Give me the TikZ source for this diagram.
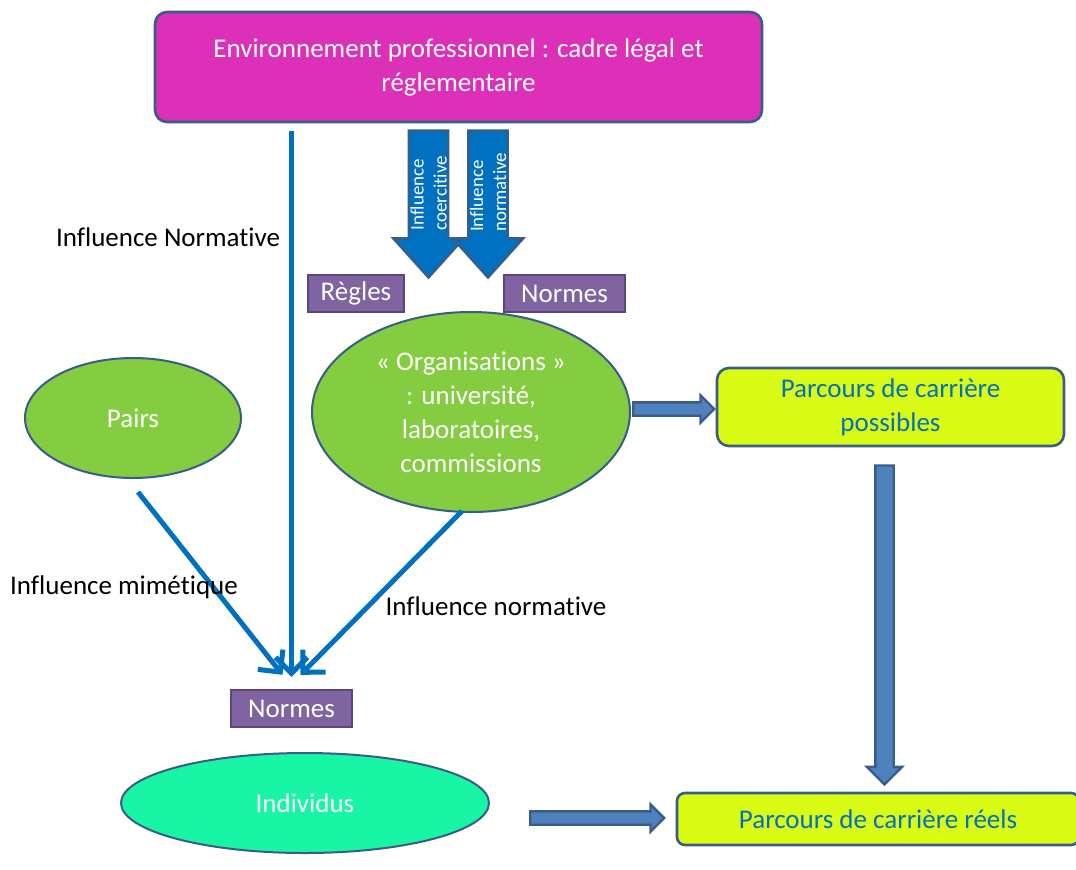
\documentclass[tikz,border=0pt]{standalone}
\usepackage{fontspec}
\setmainfont{Carlito}[Ligatures=NoCommon]
\usetikzlibrary{shapes.geometric,shapes.arrows,arrows.meta,calc}

\definecolor{envfill}{RGB}{220,48,185}
\definecolor{edgeblue}{RGB}{56,93,138}
\definecolor{boxpurple}{RGB}{128,100,162}
\definecolor{boxpurpleedge}{RGB}{92,70,128}
\definecolor{orggreen}{RGB}{132,204,64}
\definecolor{indfill}{RGB}{24,245,164}
\definecolor{pathyellow}{RGB}{218,252,20}
\definecolor{inflblue}{RGB}{0,112,192}
\definecolor{arrowfill}{RGB}{79,129,189}

\begin{document}
\begin{tikzpicture}[x=0.5pt,y=-0.5pt,
			txt/.style={font=\fontsize{13.5}{17}\selectfont, align=center},
			cadre/.style={draw=edgeblue, line width=1.3pt, rounded corners=6pt, inner sep=0pt, txt},
			etiquette/.style={draw=boxpurpleedge, fill=boxpurple, line width=1.2pt, text=white, minimum height=18.5pt, inner sep=0pt, txt},
			acteur/.style={ellipse, draw=edgeblue, line width=1pt, text=white, inner sep=0pt, txt},
			influence/.style={draw=inflblue, line width=2.5pt, -{Straight Barb[length=8pt,width=16pt]}},
			legende/.style={font=\fontsize{13.5}{15}\selectfont},
			fleche/.style={single arrow, draw=edgeblue, fill=arrowfill, line width=1.2pt, inner sep=0pt, anchor=tail},
			petite/.style={inner ysep=2.75pt, single arrow head extend=3.5pt, minimum width=12.5pt},
			contrainte/.style={fleche, fill=inflblue, rotate=-90, inner ysep=9.25pt, minimum width=34pt, single arrow head extend=7.75pt, minimum height=73.5pt, single arrow tip angle=84},
			sens/.style={rotate=90, text=white, font=\fontsize{9.5}{11.5}\selectfont, align=left, inner sep=0pt}
			]
			\useasboundingbox (0,0) rectangle (1076,869);

			\node[cadre, fill=envfill, text=white, minimum width=303.5pt, minimum height=55pt] (env) at (458.5,67) {Environnement professionnel : cadre légal et\\réglementaire};

			\node[contrainte] (coer) at ($(env.south)+(-30,6)$) {};
			\node[contrainte] (norm) at ($(env.south)+(29.5,6)$) {};
			\node[sens] (tcoer) at ($(coer.tail)+(0,64)$) {Influence\\coercitive};
			\node[sens] (tnorm) at ($(norm.tail)+(0,63)$) {Influence\\normative};

			\node[etiquette, minimum width=48pt] (regles) at (356,293.5) {Règles};
			\node[etiquette, minimum width=60.5pt] (normes) at (564.5,293.5) {Normes};

			\node[acteur, fill=orggreen, minimum width=159pt, minimum height=100pt] (org) at (471,412) {« Organisations »\\: université,\\laboratoires,\\commissions};
			\node[acteur, fill=orggreen, minimum width=108pt, minimum height=60pt] (pairs) at (133,418) {Pairs};
			\node[cadre, fill=pathyellow, text=inflblue, minimum width=173.5pt, minimum height=39pt] (poss) at (890.5,407) {Parcours de carrière\\possibles};
			\node[cadre, fill=pathyellow, text=inflblue, rounded corners=4pt, minimum width=201pt, minimum height=26pt] (reels) at (878,819) {Parcours de carrière réels};
			\node[acteur, fill=indfill, minimum width=184pt, minimum height=50pt] (ind) at (305,803) {Individus};
			\node[etiquette, minimum width=60.5pt] (normesind) at (291.5,708.5) {Normes};

			\draw[influence] ($(env.south -| normesind.north)+(0,8)$) -- ($(normesind.north)+(0,-12)$);
			\draw[influence] ($(pairs.south)+(5,13)$) -- ($(normesind.north)+(-9,-14)$);
			\draw[influence] ($(org.south)+(-9,-2)$) -- ($(normesind.north)+(9,-14)$);

			\node[legende] (lnormative) at (168,237) {Influence Normative};
			\node[legende] (lmimetique) at (124,587) {Influence mimétique};
			\node[legende] (lnormorg) at (496,606) {Influence normative};

			\node[fleche, petite, minimum height=40.5pt] (versposs) at ($(org.east)+(1,-3)$) {};
			\node[fleche, rotate=-90, inner ysep=4pt, single arrow head extend=4.25pt, minimum width=16.5pt, minimum height=159.5pt] (versreels) at ($(poss.south)+(-6,17)$) {};
			\node[fleche, petite, minimum height=67pt] (indreels) at ($(ind.east)+(39,15)$) {};
		\end{tikzpicture}
\end{document}
